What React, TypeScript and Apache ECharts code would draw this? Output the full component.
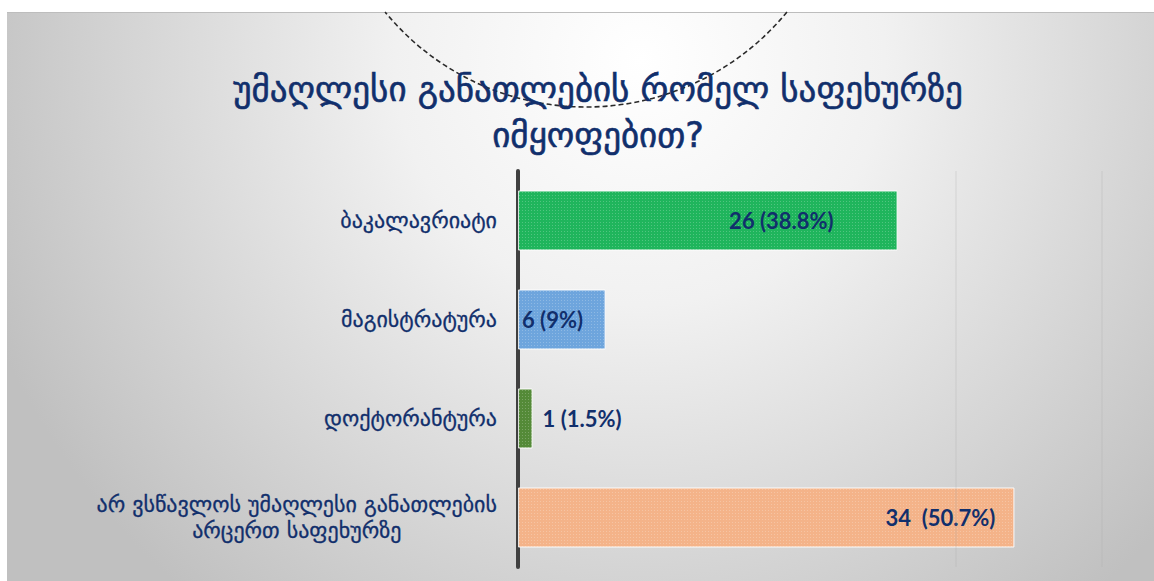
import React, { useEffect, useRef } from "react";
import * as echarts from "echarts";

const titleLines = ["უმაღლესი განათლების რომელ საფეხურზე", "იმყოფებით?"];
const categories = [
  "ბაკალავრიატი",
  "მაგისტრატურა",
  "დოქტორანტურა",
  "არ ვსწავლოს უმაღლესი განათლების\nარცერთ საფეხურზე",
];
const values = [26, 6, 1, 34];
const valueLabels = ["26 (38.8%)", "6 (9%)", "1 (1.5%)", "34  (50.7%)"];
const barColors = ["#1fb55c", "#6ea5dd", "#548a38", "#f4b389"];
const labelPositions = ["insideRight", "insideLeft", "right", "insideRight"];
const labelDistances = [64, 4, 10, 19];
const faintLines = [30, 40];

const NAVY = "#112f6c";

export default function App() {
  const ref = useRef<HTMLDivElement>(null);
  useEffect(() => {
    document.body.style.margin = "0";
    const chart = echarts.init(ref.current!, undefined, { renderer: "svg" });
    const R = 260;
    const cy = -153;
    const a0 = Math.asin((12 - cy) / R);
    chart.setOption({
      animation: false,
      backgroundColor: "#ffffff",
      title: {
        text: titleLines.join("\n"),
        left: 598,
        top: 66,
        padding: 0,
        textAlign: "center",
        textStyle: {
          fontFamily: "DejaVu Sans",
          fontSize: 35,
          fontWeight: "normal",
          lineHeight: 46,
          color: NAVY,
          textBorderColor: NAVY,
          textBorderWidth: 0.6,
        },
      },
      graphic: [
        {
          type: "rect",
          z: -10,
          silent: true,
          shape: { x: 7, y: 12, width: 1147, height: 569 },
          style: {
            fill: new echarts.graphic.RadialGradient(
              640,
              60,
              700,
              [
                { offset: 0, color: "#ffffff" },
                { offset: 0.35, color: "#f1f1f1" },
                { offset: 1, color: "#c0c0c0" },
              ],
              true
            ),
          },
        },
        {
          type: "line",
          z: -9,
          silent: true,
          shape: { x1: 7, y1: 12.5, x2: 1154, y2: 12.5 },
          style: { stroke: "#bdbdbd", lineWidth: 1 },
        },
        {
          type: "arc",
          z: -8,
          silent: true,
          shape: { cx: 586, cy: cy, r: R, startAngle: a0, endAngle: Math.PI - a0, clockwise: true },
          style: { stroke: "#2a2a2a", lineWidth: 1.6, lineDash: [5, 3], fill: "none" },
        },
      ],
      grid: { left: 518, width: 584, top: 171, height: 396, containLabel: false },
      xAxis: {
        type: "value",
        min: 0,
        max: 40,
        interval: 10,
        show: true,
        axisLine: { show: false },
        axisTick: { show: false },
        axisLabel: { show: false },
        splitLine: { show: false },
      },
      yAxis: {
        type: "category",
        data: categories,
        inverse: true,
        offset: 2,
        axisLine: { show: true, lineStyle: { color: "#404040", width: 4 } },
        axisTick: { show: false },
        axisLabel: {
          margin: 19,
          color: NAVY,
          fontFamily: "DejaVu Sans",
          fontSize: 22,
          lineHeight: 26,
          textBorderColor: NAVY,
          textBorderWidth: 0.3,
          formatter: (v: string) => {
            if (v.indexOf("\n") >= 0) {
              return v
                .split("\n")
                .map((s) => "{c|" + s + "}")
                .join("\n");
            }
            return v;
          },
          rich: {
            c: {
              align: "center",
              color: NAVY,
              fontFamily: "DejaVu Sans",
              fontSize: 22,
              lineHeight: 26,
              textBorderColor: NAVY,
              textBorderWidth: 0.3,
            },
          },
        },
      },
      series: [
        {
          type: "bar",
          barWidth: 60,
          data: values.map((v, i) => ({
            value: v,
            itemStyle: {
              color: barColors[i],
              borderColor: "rgba(255,255,255,0.55)",
              borderWidth: 1,
              decal: {
                symbol: "rect",
                symbolSize: 1,
                color: "rgba(255,255,255,0.22)",
                dashArrayX: [1, 2],
                dashArrayY: [1, 2],
                rotation: 0,
              },
            },
            label: {
              show: true,
              position: labelPositions[i],
              distance: labelDistances[i],
              formatter: valueLabels[i],
              color: NAVY,
              fontFamily: "Lato",
              fontWeight: "bold",
              fontSize: 22,
            },
          })),
          markLine: {
            silent: true,
            symbol: "none",
            label: { show: false },
            lineStyle: { color: "rgba(175,175,175,0.22)", type: "solid", width: 1.5 },
            data: faintLines.map((x) => ({ xAxis: x })),
          },
        },
      ],
    });
    return () => chart.dispose();
  }, []);
  return <div ref={ref} style={{ width: 1154, height: 581 }} />;
}
